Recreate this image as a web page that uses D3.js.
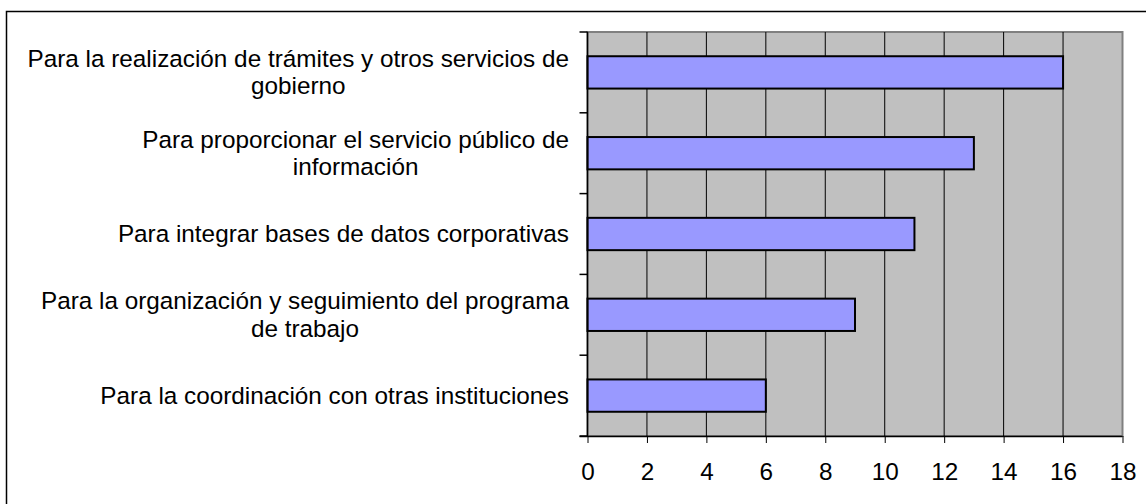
<!DOCTYPE html>
<html>
<head>
<meta charset="utf-8">
<script src="https://cdn.jsdelivr.net/npm/d3@7"></script>
<style>
  body { margin: 0; background: #fff; }
  svg { display: block; font-family: Arial, "Liberation Sans", sans-serif; }
</style>
</head>
<body>
<svg id="chart" width="1146" height="504"></svg>
<script>
const categories = [
  'Para la realización de trámites y otros servicios de gobierno',
  'Para proporcionar el servicio público de información',
  'Para integrar bases de datos corporativas',
  'Para la organización y seguimiento del programa de trabajo',
  'Para la coordinación con otras instituciones'
]
const values = [16, 13, 11, 9, 6]
const xTicks = [0, 2, 4, 6, 8, 10, 12, 14, 16, 18]

const svg = d3.select('#chart')
const plot = { left: 587.5, right: 1122.5, top: 32, bottom: 436 }
const fontSize = 24.3

// outer frame (cropped at the right and bottom)
svg.append('rect')
  .attr('x', 6.5).attr('y', 11.5)
  .attr('width', 1200).attr('height', 600)
  .attr('fill', 'none').attr('stroke', '#000').attr('stroke-width', 1.5)

const x = d3.scaleLinear().domain([0, 18]).range([plot.left, plot.right])
const y = d3.scaleBand().domain(categories).range([plot.top, plot.bottom]).paddingInner(0).paddingOuter(0)

// plot background
svg.append('rect')
  .attr('x', plot.left).attr('y', plot.top)
  .attr('width', plot.right - plot.left).attr('height', plot.bottom - plot.top)
  .attr('fill', '#c0c0c0')
  .attr('stroke', '#808080').attr('stroke-width', 2)

// vertical gridlines
svg.append('g')
  .selectAll('line')
  .data(xTicks.filter(d => d > 0 && d < 18))
  .enter()
  .append('line')
  .attr('x1', d => x(d)).attr('x2', d => x(d))
  .attr('y1', plot.top).attr('y2', plot.bottom)
  .attr('stroke', '#000').attr('stroke-width', 1)

// bars
const barH = y.bandwidth() * 0.4
svg.append('g')
  .selectAll('rect')
  .data(categories)
  .enter()
  .append('rect')
  .attr('x', x(0))
  .attr('y', d => y(d) + (y.bandwidth() - barH) / 2)
  .attr('width', (d, i) => x(values[i]) - x(0))
  .attr('height', barH)
  .attr('fill', '#9999ff')
  .attr('stroke', '#000').attr('stroke-width', 2)

// x axis
const xAxis = svg.append('g')
  .attr('transform', `translate(0,${plot.bottom})`)
  .call(d3.axisBottom(x).tickValues(xTicks).tickSize(7).tickPadding(20).tickSizeOuter(0))
xAxis.select('.domain').attr('stroke', '#000').attr('stroke-width', 1.5)
  .attr('d', `M${plot.left - 8},0.5H${plot.right}`)
xAxis.selectAll('.tick line').attr('stroke', '#000')
xAxis.selectAll('.tick text')
  .attr('font-size', fontSize).attr('fill', '#000')
  .attr('font-family', 'Arial, "Liberation Sans", sans-serif')

// y axis line + ticks at band boundaries
svg.append('line')
  .attr('x1', plot.left).attr('x2', plot.left)
  .attr('y1', plot.top).attr('y2', plot.bottom)
  .attr('stroke', '#000').attr('stroke-width', 1.5)
svg.append('g')
  .selectAll('line')
  .data(d3.range(categories.length + 1))
  .enter()
  .append('line')
  .attr('x1', plot.left - 8).attr('x2', plot.left)
  .attr('y1', i => plot.top + i * y.step()).attr('y2', i => plot.top + i * y.step())
  .attr('stroke', '#000').attr('stroke-width', 1.5)

// category labels, wrapped and centred as a block against the axis
const labelRight = 569
const maxW = 545
const lineH = 27.5
const labels = svg.append('g').attr('font-size', fontSize).attr('fill', '#000')

categories.forEach(cat => {
  const words = cat.split(' ')
  const probe = labels.append('text')
  const lines = []
  let cur = []
  words.forEach(w => {
    const test = cur.concat(w).join(' ')
    probe.text(test)
    if (probe.node().getComputedTextLength() > maxW && cur.length) {
      lines.push(cur.join(' '))
      cur = [w]
    } else {
      cur.push(w)
    }
  })
  lines.push(cur.join(' '))
  const widths = lines.map(l => { probe.text(l); return probe.node().getComputedTextLength() })
  probe.remove()
  const blockW = d3.max(widths)
  const cx = labelRight - blockW / 2
  const cy = y(cat) + y.bandwidth() / 2
  const off = 8.3
  const t = labels.append('text').attr('text-anchor', 'middle')
  lines.forEach((l, i) => {
    t.append('tspan')
      .attr('x', cx)
      .attr('y', cy + off - (lines.length - 1) * lineH / 2 + i * lineH)
      .text(l)
  })
})
</script>
</body>
</html>
